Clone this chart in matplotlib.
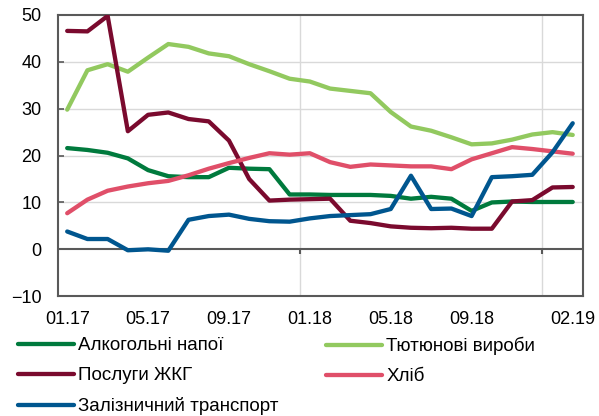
import numpy as np
import matplotlib.pyplot as plt

plt.rcParams['font.family'] = ['Liberation Sans', 'DejaVu Sans']

# monthly data 01.17 - 02.19
months = ['01.17', '02.17', '03.17', '04.17', '05.17', '06.17', '07.17', '08.17', '09.17',
          '10.17', '11.17', '12.17', '01.18', '02.18', '03.18', '04.18', '05.18', '06.18',
          '07.18', '08.18', '09.18', '10.18', '11.18', '12.18', '01.19', '02.19']
shown_labels = ['01.17', '05.17', '09.17', '01.18', '05.18', '09.18', '02.19']

alko = [21.6, 21.2, 20.6, 19.4, 16.9, 15.6, 15.4, 15.4, 17.4, 17.2, 17.1, 11.7, 11.7,
        11.6, 11.6, 11.6, 11.4, 10.8, 11.2, 10.8, 8.2, 10.0, 10.2, 10.1, 10.1, 10.1]
tyutyun = [29.8, 38.2, 39.5, 37.9, 40.9, 43.8, 43.2, 41.8, 41.2, 39.5, 38.0, 36.4, 35.8,
           34.3, 33.8, 33.3, 29.3, 26.2, 25.3, 23.9, 22.4, 22.6, 23.4, 24.5, 25.0, 24.4]
zhkg = [46.6, 46.5, 49.8, 25.2, 28.7, 29.2, 27.8, 27.3, 23.2, 15.0, 10.4, 10.6, 10.7,
        10.8, 6.1, 5.6, 4.9, 4.6, 4.5, 4.6, 4.4, 4.4, 10.2, 10.5, 13.2, 13.3]
khlib = [7.7, 10.6, 12.5, 13.4, 14.1, 14.6, 15.8, 17.2, 18.4, 19.5, 20.5, 20.2, 20.5,
         18.6, 17.6, 18.1, 17.9, 17.7, 17.7, 17.1, 19.2, 20.5, 21.8, 21.4, 20.9, 20.4]
zaliz = [3.8, 2.2, 2.2, -0.2, 0.0, -0.3, 6.3, 7.1, 7.4, 6.5, 6.0, 5.9, 6.6,
         7.1, 7.3, 7.5, 8.6, 15.7, 8.6, 8.7, 7.1, 15.4, 15.6, 15.9, 20.7, 26.9]

series = [
    ('Алкогольні напої', alko, '#007a3d'),
    ('Тютюнові вироби', tyutyun, '#92c95f'),
    ('Послуги ЖКГ', zhkg, '#7a0a2e'),
    ('Хліб', khlib, '#e04f69'),
    ('Залізничний транспорт', zaliz, '#00568f'),
]

x = np.arange(len(months))

fig = plt.figure(figsize=(5.99, 4.16), dpi=100)
ax = fig.add_axes([0.097, 0.288, 0.876, 0.676])

grey = '#595959'
for yv in [10, 20, 30, 40]:
    ax.axhline(yv, color='#d9d9d9', lw=1, zorder=0)
# year boundaries
year_breaks = [months.index('01.18') - 0.5, months.index('01.19') - 0.5]
for xb in year_breaks:
    ax.axvline(xb, color='#d9d9d9', lw=1, zorder=0)
ax.axhline(0, color=grey, lw=1.5, zorder=1)
ax.vlines(year_breaks, -0.9, 0, color=grey, lw=1.5, zorder=1)

lines = {}
for name, vals, col in series:
    lines[name], = ax.plot(x, vals, color=col, lw=3.1, label=name,
                           solid_capstyle='round', zorder=3)

ax.set_xlim(-0.45, 25.5)
ax.set_ylim(-10, 50)
ax.set_yticks(range(-10, 51, 10))
ax.set_xticks([months.index(m) for m in shown_labels])
ax.set_xticklabels(shown_labels)
ax.tick_params(axis='x', length=0, pad=11, labelsize=13)
ax.tick_params(axis='y', direction='in', length=4, color=grey, width=1.2, labelsize=13, pad=12)
for s in ax.spines.values():
    s.set_color(grey)
    s.set_linewidth(1.5)

# legend laid out row by row: two columns placed separately
leg_kw = dict(loc='upper left', frameon=False, fontsize=13.5, handlelength=3.0,
              handletextpad=0.22, labelspacing=0.69, borderpad=0, borderaxespad=0)
col1 = ['Алкогольні напої', 'Послуги ЖКГ', 'Залізничний транспорт']
col2 = ['Тютюнові вироби', 'Хліб']
fig.legend([lines[n] for n in col1], col1,
           bbox_to_anchor=(18 / 599, 1 - 337 / 416), **leg_kw)
fig.legend([lines[n] for n in col2], col2,
           bbox_to_anchor=(326 / 599, 1 - 337 / 416), **leg_kw)

fig.savefig('out.png', dpi=100)
